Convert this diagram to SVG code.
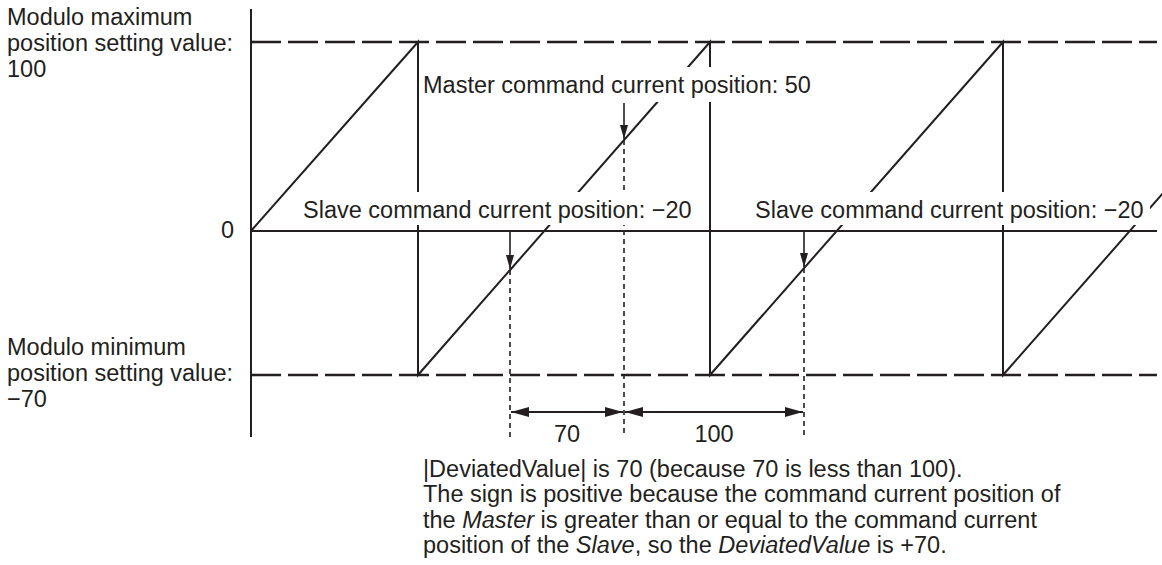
<svg xmlns="http://www.w3.org/2000/svg" width="1162" height="565" viewBox="0 0 1162 565">
<style>
text{font-family:"Liberation Sans",Arial,sans-serif;font-size:23.5px;fill:#231f20}
.ln{stroke:#231f20;stroke-width:2;fill:none}
.dash{stroke:#231f20;stroke-width:2.6;fill:none;stroke-dasharray:30 7}
.dot{stroke:#231f20;stroke-width:1.6;fill:none;stroke-dasharray:5 4}
.thin{stroke:#231f20;stroke-width:1.6;fill:none}
.ko{fill:#fff}
.it{font-style:italic}
</style>
<defs>
<marker id="ah" viewBox="0 0 14 8" refX="14" refY="4" markerWidth="14" markerHeight="8" markerUnits="userSpaceOnUse" orient="auto"><path d="M0,0 L14,4 L0,8 z" fill="#231f20"/></marker>
<marker id="dh" viewBox="0 0 18 10" refX="18" refY="5" markerWidth="18" markerHeight="10" markerUnits="userSpaceOnUse" orient="auto-start-reverse"><path d="M0,0 L18,5 L0,10 z" fill="#231f20"/></marker>
</defs>
<g id="axes">
<line class="ln" x1="251" y1="9" x2="251" y2="437"/>
<line class="ln" x1="251" y1="231" x2="1157" y2="231"/>
<line class="dash" x1="251" y1="42" x2="1157" y2="42"/>
<line class="dash" x1="251" y1="375" x2="1157" y2="375"/>
</g>
<g id="sawtooth">
<polyline class="ln" points="251,231 418,42 418,375 710,42 710,375 1003,42 1003,375 1172,183"/>
</g>
<g id="connectors">
<line class="thin" x1="624" y1="103" x2="624" y2="139" marker-end="url(#ah)"/>
<line class="dot" x1="624" y1="140" x2="624" y2="437"/>
<line class="thin" x1="510" y1="231" x2="510" y2="269" marker-end="url(#ah)"/>
<line class="dot" x1="510" y1="270" x2="510" y2="437"/>
<line class="thin" x1="804" y1="231" x2="804" y2="267" marker-end="url(#ah)"/>
<line class="dot" x1="804" y1="268" x2="804" y2="437"/>
<line class="ln" x1="511" y1="412" x2="623" y2="412" marker-start="url(#dh)" marker-end="url(#dh)"/>
<line class="ln" x1="625" y1="412" x2="803" y2="412" marker-start="url(#dh)" marker-end="url(#dh)"/>
</g>
<g id="label-master">
<rect class="ko" x="420" y="67" width="402" height="35"/>
<text x="423" y="93">Master command current position: 50</text>
</g>
<g id="label-slave-1">
<rect class="ko" x="298" y="192" width="404" height="33"/>
<text x="303" y="218">Slave command current position: −20</text>
</g>
<g id="label-slave-2">
<rect class="ko" x="751" y="192" width="399" height="33"/>
<text x="755" y="218">Slave command current position: −20</text>
</g>
<g id="label-zero"><text x="221" y="238">0</text></g>
<g id="label-max">
<text x="7" y="25">Modulo maximum</text>
<text x="7" y="51">position setting value:</text>
<text x="7" y="77">100</text>
</g>
<g id="label-min">
<text x="7" y="355">Modulo minimum</text>
<text x="7" y="381">position setting value:</text>
<text x="7" y="407">−70</text>
</g>
<g id="dim-labels">
<text x="567" y="442" text-anchor="middle">70</text>
<text x="714" y="442" text-anchor="middle">100</text>
</g>
<g id="note">
<text x="423" y="477">|DeviatedValue| is 70 (because 70 is less than 100).</text>
<text x="423" y="502">The sign is positive because the command current position of</text>
<text x="423" y="528">the <tspan class="it">Master</tspan> is greater than or equal to the command current</text>
<text x="423" y="553">position of the <tspan class="it">Slave</tspan>, so the <tspan class="it">DeviatedValue</tspan> is +70.</text>
</g>
</svg>
